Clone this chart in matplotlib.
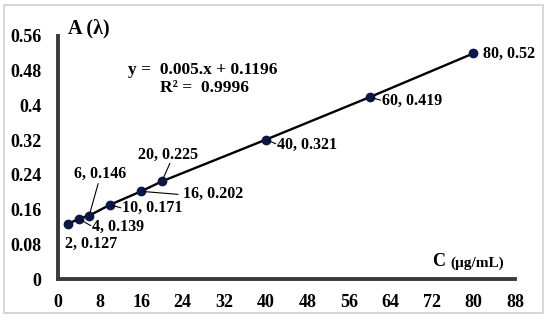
import matplotlib
matplotlib.use("Agg")
import matplotlib.pyplot as plt
from matplotlib.patches import Rectangle

conc = [2, 4, 6, 10, 16, 20, 40, 60, 80]
absorb = [0.127, 0.139, 0.146, 0.171, 0.202, 0.225, 0.321, 0.419, 0.52]
labels = ["2, 0.127", "4, 0.139", "6, 0.146", "10, 0.171", "16, 0.202",
          "20, 0.225", "40, 0.321", "60, 0.419", "80, 0.52"]
x_ticks = [0, 8, 16, 24, 32, 40, 48, 56, 64, 72, 80, 88]
y_ticks = [0, 0.08, 0.16, 0.24, 0.32, 0.4, 0.48, 0.56]
y_tick_labels = ["0", "0.08", "0.16", "0.24", "0.32", "0.4", "0.48", "0.56"]

plt.rcParams['font.family'] = ['Liberation Serif', 'DejaVu Serif']
plt.rcParams['font.weight'] = 'bold'

fig = plt.figure(figsize=(5.5, 3.2), dpi=100)
fig.patches.append(Rectangle((4/550, 7/320), 539/550, 308/320, transform=fig.transFigure,
                             fill=False, edgecolor='#d0d0d0', linewidth=1.2))
ax = fig.add_axes([58/550, 41/320, 457/550, 243/320])
ax.set_xlim(0, 88)
ax.set_ylim(0, 0.56)
ax.plot(conc, absorb, color='black', linewidth=1.7, zorder=2)
ax.plot(conc, absorb, linestyle='none', marker='o', markersize=6,
        color='#0b1747', zorder=3)

for s in ['top', 'right']:
    ax.spines[s].set_visible(False)
for s in ['left', 'bottom']:
    ax.spines[s].set_color('#3a3a3a')
    ax.spines[s].set_linewidth(2.8)

ax.set_xticks(x_ticks)
ax.set_xticklabels([str(t) for t in x_ticks], fontsize=13, fontweight='bold')
ax.set_yticks(y_ticks)
ax.set_yticklabels(y_tick_labels, fontsize=13, fontweight='bold')
ax.tick_params(axis='both', length=0)
ax.tick_params(axis='y', pad=12)
ax.tick_params(axis='x', pad=11)

# (text offset px, ha, leader end offset px or None)
specs = [
    ((-3, -20), 'left', None),
    ((13, -8), 'left', (12, -7)),
    ((11, 42), 'center', (9, 32)),
    ((12, -3), 'left', (11, -3)),
    ((42, -3), 'left', (37, -3)),
    ((6, 26), 'center', (8, 18)),
    ((11, -5), 'left', (10, -4)),
    ((12, -4), 'left', (11, -3)),
    ((10, -1), 'left', None),
]
for xv, yv, lab, (off, ha, lead) in zip(conc, absorb, labels, specs):
    ax.annotate(lab, (xv, yv), xytext=off, textcoords='offset pixels',
                ha=ha, va='center', fontsize=11.5, fontweight='bold', zorder=4)
    if lead is not None:
        ax.annotate('', (xv, yv), xytext=lead, textcoords='offset pixels',
                    arrowprops=dict(arrowstyle='-', color='black', lw=0.8,
                                    shrinkA=0, shrinkB=2))

fig.text(68/550, 1 - 28/320, "A (λ)", fontsize=14.5, fontweight='bold',
         ha='left', va='center')
fig.text(203/550, 1 - 70/320, "y =  0.005.x + 0.1196", fontsize=12.5,
         fontweight='bold', ha='center', va='center')
fig.text(204/550, 1 - 88/320, "R² =  0.9996", fontsize=12.5,
         fontweight='bold', ha='center', va='center')
fig.text(432/550, 1 - 262/320, "C", fontsize=13, fontweight='bold',
         ha='left', va='center')
fig.text(450/550, 1 - 263/320, "(µg/mL)", fontsize=11, fontweight='bold',
         ha='left', va='center')

fig.savefig("out.png", dpi=100)
